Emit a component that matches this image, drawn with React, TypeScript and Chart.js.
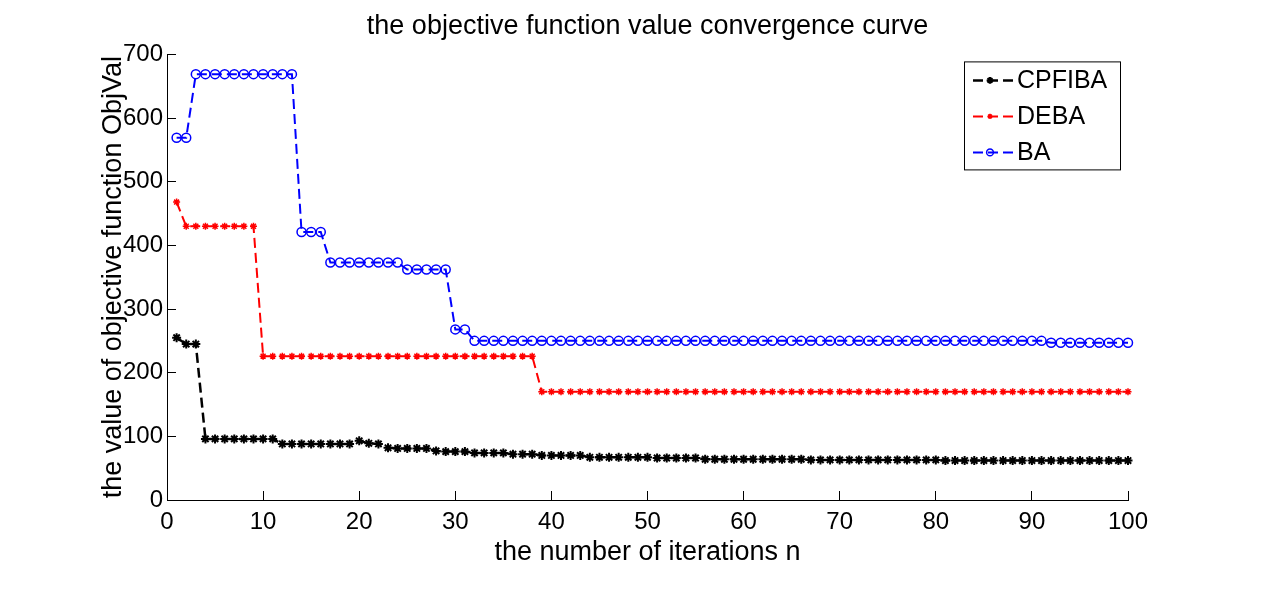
import { useEffect, useRef } from 'react';
import { Chart, registerables } from 'chart.js';
import { drawPoint } from 'chart.js/helpers';

Chart.register(...registerables);

const FONT = '"Liberation Sans", Arial, Helvetica, sans-serif';

const titleText = 'the objective function value convergence curve';
const xAxisLabel = 'the number of iterations n';
const yAxisLabel = 'the value of objective function ObjVal';

const xMin = 0;
const xMax = 100;
const xStep = 10;
const yMin = 0;
const yMax = 700;
const yStep = 100;

const seriesNames = ['CPFIBA', 'DEBA', 'BA'];

const iterations = [
  1, 2, 3, 4, 5, 6, 7, 8, 9, 10,
  11, 12, 13, 14, 15, 16, 17, 18, 19, 20,
  21, 22, 23, 24, 25, 26, 27, 28, 29, 30,
  31, 32, 33, 34, 35, 36, 37, 38, 39, 40,
  41, 42, 43, 44, 45, 46, 47, 48, 49, 50,
  51, 52, 53, 54, 55, 56, 57, 58, 59, 60,
  61, 62, 63, 64, 65, 66, 67, 68, 69, 70,
  71, 72, 73, 74, 75, 76, 77, 78, 79, 80,
  81, 82, 83, 84, 85, 86, 87, 88, 89, 90,
  91, 92, 93, 94, 95, 96, 97, 98, 99, 100,
];

const cpfibaValues = [
  255, 245, 245, 96, 96, 96, 96, 96, 96, 96,
  96, 88, 88, 88, 88, 88, 88, 88, 88, 93,
  89, 88, 82, 81, 81, 81, 81, 77, 76, 76,
  76, 74, 74, 74, 74, 72, 72, 72, 70, 70,
  70, 70, 70, 67, 67, 67, 67, 67, 67, 67,
  66, 66, 66, 66, 66, 64, 64, 64, 64, 64,
  64, 64, 64, 64, 64, 64, 63, 63, 63, 63,
  63, 63, 63, 63, 63, 63, 63, 63, 63, 63,
  62, 62, 62, 62, 62, 62, 62, 62, 62, 62,
  62, 62, 62, 62, 62, 62, 62, 62, 62, 62,
];

const debaValues = [
  468, 430, 430, 430, 430, 430, 430, 430, 430, 226,
  226, 226, 226, 226, 226, 226, 226, 226, 226, 226,
  226, 226, 226, 226, 226, 226, 226, 226, 226, 226,
  226, 226, 226, 226, 226, 226, 226, 226, 170, 170,
  170, 170, 170, 170, 170, 170, 170, 170, 170, 170,
  170, 170, 170, 170, 170, 170, 170, 170, 170, 170,
  170, 170, 170, 170, 170, 170, 170, 170, 170, 170,
  170, 170, 170, 170, 170, 170, 170, 170, 170, 170,
  170, 170, 170, 170, 170, 170, 170, 170, 170, 170,
  170, 170, 170, 170, 170, 170, 170, 170, 170, 170,
];

const baValues = [
  569, 569, 669, 669, 669, 669, 669, 669, 669, 669,
  669, 669, 669, 421, 421, 421, 373, 373, 373, 373,
  373, 373, 373, 373, 362, 362, 362, 362, 362, 268,
  268, 250, 250, 250, 250, 250, 250, 250, 250, 250,
  250, 250, 250, 250, 250, 250, 250, 250, 250, 250,
  250, 250, 250, 250, 250, 250, 250, 250, 250, 250,
  250, 250, 250, 250, 250, 250, 250, 250, 250, 250,
  250, 250, 250, 250, 250, 250, 250, 250, 250, 250,
  250, 250, 250, 250, 250, 250, 250, 250, 250, 250,
  250, 247, 247, 247, 247, 247, 247, 247, 247, 247,
];

const toPoints = (vals: number[]) => vals.map((v, i) => ({ x: iterations[i], y: v }));

const boxLegend = {
  id: 'boxLegend',
  afterDraw(chart: any) {
    const { ctx, chartArea } = chart;
    const boxW = 156;
    const boxH = 108;
    const rowH = 36;
    const x0 = chartArea.right - 8 - boxW;
    const y0 = chartArea.top + 7;
    ctx.save();
    ctx.fillStyle = '#ffffff';
    ctx.fillRect(x0, y0, boxW, boxH);
    ctx.strokeStyle = '#000000';
    ctx.lineWidth = 1;
    ctx.strokeRect(x0 + 0.5, y0 + 0.5, boxW, boxH);
    chart.data.datasets.forEach((ds: any, i: number) => {
      const cy = y0 + 19 + rowH * i;
      ctx.strokeStyle = ds.borderColor;
      ctx.lineWidth = ds.borderWidth;
      ctx.setLineDash(ds.borderDash);
      ctx.beginPath();
      ctx.moveTo(x0 + 9, cy);
      ctx.lineTo(x0 + 50, cy);
      ctx.stroke();
      ctx.setLineDash([]);
      ctx.fillStyle = ds.pointBackgroundColor;
      ctx.strokeStyle = ds.pointBorderColor;
      ctx.lineWidth = ds.pointBorderWidth;
      drawPoint(
        ctx,
        { pointStyle: ds.pointStyle, radius: ds.pointRadius * 0.75, borderWidth: ds.pointBorderWidth, rotation: 0 } as any,
        x0 + 26,
        cy
      );
      ctx.fillStyle = '#000000';
      ctx.font = `25px ${FONT}`;
      ctx.textBaseline = 'middle';
      ctx.textAlign = 'left';
      ctx.fillText(ds.label, x0 + 53, cy + 1);
    });
    ctx.restore();
  },
};

export default function App() {
  const canvasRef = useRef<HTMLCanvasElement | null>(null);

  useEffect(() => {
    const canvas = canvasRef.current;
    if (!canvas) return;
    const chart = new Chart(canvas, {
      type: 'line',
      data: {
        datasets: [
          {
            label: seriesNames[0],
            data: toPoints(cpfibaValues),
            borderColor: '#000000',
            borderWidth: 2.5,
            borderDash: [10, 5],
            pointStyle: 'star',
            pointRadius: 4.5,
            pointBorderWidth: 2,
            pointBorderColor: '#000000',
            pointBackgroundColor: '#000000',
            tension: 0,
            clip: false,
          },
          {
            label: seriesNames[1],
            data: toPoints(debaValues),
            borderColor: '#ff0000',
            borderWidth: 2,
            borderDash: [10, 5],
            pointStyle: 'star',
            pointRadius: 3.5,
            pointBorderWidth: 1.5,
            pointBorderColor: '#ff0000',
            pointBackgroundColor: '#ff0000',
            tension: 0,
            clip: false,
          },
          {
            label: seriesNames[2],
            data: toPoints(baValues),
            borderColor: '#0000ff',
            borderWidth: 2,
            borderDash: [10, 5],
            pointStyle: 'circle',
            pointRadius: 4.5,
            pointBorderWidth: 1.5,
            pointBorderColor: '#0000ff',
            pointBackgroundColor: 'rgba(0,0,0,0)',
            tension: 0,
            clip: false,
          },
        ] as any,
      },
      options: {
        responsive: false,
        animation: false,
        layout: { padding: { left: 0, right: 153, top: 0, bottom: 0 } },
        plugins: {
          legend: { display: false },
          tooltip: { enabled: false },
          title: {
            display: true,
            text: titleText,
            color: '#000000',
            fullSize: false,
            font: { family: FONT, size: 27, weight: 'normal' },
            padding: { top: 10, bottom: 12 },
          },
        },
        scales: {
          x: {
            type: 'linear',
            min: xMin,
            max: xMax,
            afterFit: (scale: any) => {
              scale.height = 102;
            },
            ticks: {
              stepSize: xStep,
              color: '#000000',
              font: { family: FONT, size: 24 },
              padding: 17,
              maxRotation: 0,
            },
            grid: {
              display: true,
              drawOnChartArea: false,
              drawTicks: true,
              tickLength: -9,
              color: '#000000',
              lineWidth: 1,
            },
            border: { display: true, color: '#000000', width: 1 },
            title: {
              display: true,
              text: xAxisLabel,
              color: '#000000',
              font: { family: FONT, size: 27 },
              padding: { top: 0, bottom: 33 },
            },
          },
          y: {
            type: 'linear',
            min: yMin,
            max: yMax,
            afterFit: (scale: any) => {
              scale.width = 167;
            },
            ticks: {
              stepSize: yStep,
              color: '#000000',
              font: { family: FONT, size: 24 },
              padding: 13,
            },
            grid: {
              display: true,
              drawOnChartArea: false,
              drawTicks: true,
              tickLength: -9,
              color: '#000000',
              lineWidth: 1,
            },
            border: { display: true, color: '#000000', width: 1 },
            title: {
              display: true,
              text: yAxisLabel,
              color: '#000000',
              font: { family: FONT, size: 27 },
              padding: { top: 97, bottom: 0 },
            },
          },
        },
      } as any,
      plugins: [boxLegend],
    });
    return () => chart.destroy();
  }, []);

  return (
    <div style={{ position: 'fixed', left: 0, top: 0, width: 1281, height: 602, background: '#ffffff' }}>
      <canvas ref={canvasRef} width={1281} height={602} style={{ display: 'block' }} />
    </div>
  );
}
